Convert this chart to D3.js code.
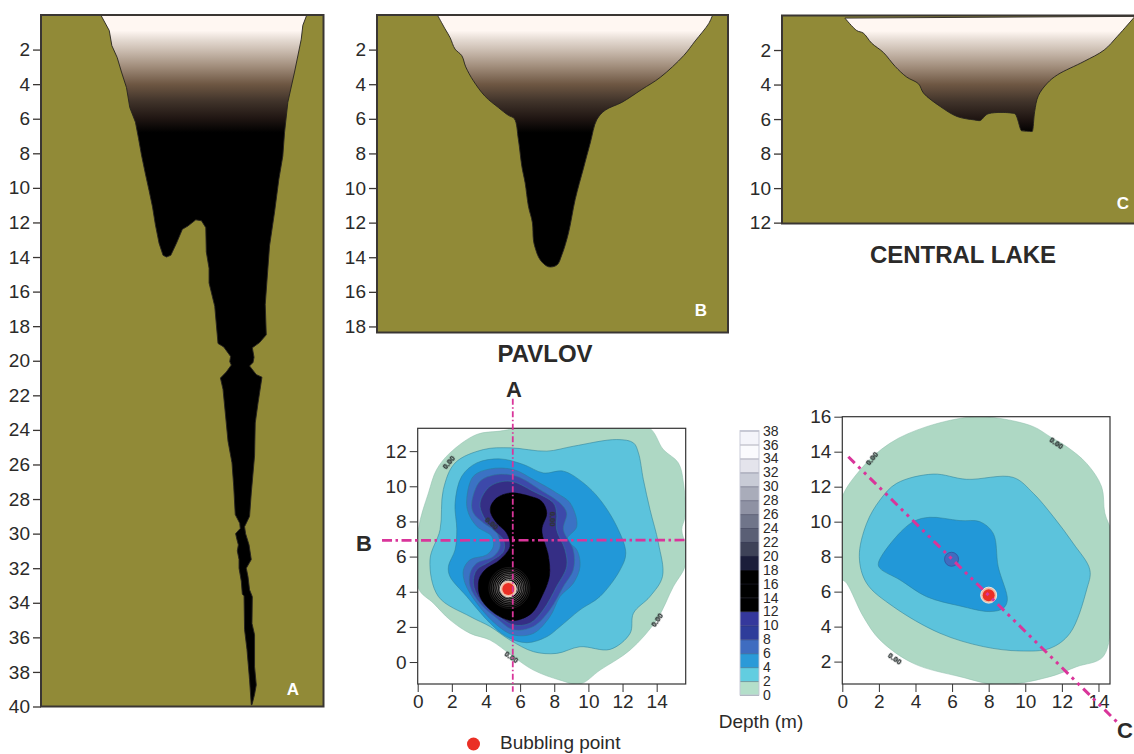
<!DOCTYPE html>
<html><head><meta charset="utf-8">
<script src="https://cdn.jsdelivr.net/npm/d3@7"></script>
<style>
html,body{margin:0;padding:0;background:#fff;overflow:hidden}
text{font-family:"Liberation Sans",Arial,sans-serif;fill:#2b2a29}
</style></head><body><svg id="c" width="1134" height="754" viewBox="0 0 1134 754"></svg>
<script>
// ---- cross-section profiles: [horizontal distance (m), depth (m)]
const profileA=[[3.47,0],[3.96,.9],[4.11,1.77],[4.42,2.46],[4.67,3.3],[4.96,4.2],[5.15,5.35],[5.48,6.2],[5.66,7.15],[5.83,8.1],[6.06,9.2],[6.27,10.15],[6.47,11.1],[6.64,12.15],[6.85,13.2],[7.08,13.9],[7.28,14],[7.53,13.9],[7.86,13.2],[8.2,12.4],[8.53,12.2],[8.98,11.85],[9.31,11.9],[9.56,12.3],[9.59,13.7],[9.75,14.65],[9.75,15.5],[10.08,16.85],[10.27,19],[10.6,19.2],[11,19.75],[10.95,20.05],[11.04,20.25],[10.75,20.65],[10.41,21],[10.56,21.65],[10.71,23.2],[10.85,24.65],[11.08,25.9],[11.18,27.25],[11.27,28.9],[11.53,29.4],[11.56,29.7],[11.29,30],[11.37,30.35],[11.45,30.65],[11.39,31],[11.49,31.5],[11.49,32],[11.62,32.75],[11.68,33.5],[11.78,33.6],[11.81,35.55],[11.95,36.7],[12.1,38.45],[12.2,39.9],[12.24,39.9],[12.39,39.3],[12.49,38.75],[12.39,37.7],[12.39,35.85],[12.24,35.2],[12.26,33.65],[12.1,33.25],[12.01,32.5],[11.91,32],[12.2,31.5],[12.07,30.65],[11.87,30],[11.81,29.6],[12.1,29],[12.2,27.65],[12.39,25.5],[12.43,23.6],[12.59,22.45],[12.82,20.95],[12.49,20.8],[12.1,20.3],[12.3,20.1],[12.36,19.8],[12.26,19.25],[12.68,18.95],[13.07,18.5],[13.01,16.75],[13.13,15.1],[13.26,13.35],[13.55,11.4],[13.8,9.5],[14.03,8.15],[14.13,6.8],[14.32,5.05],[14.71,3.3],[15.1,1.4],[15.19,.6],[15.42,0]];
const profileB=[[3.5,0],[3.94,.8],[4.23,1.3],[4.52,1.97],[4.91,2.35],[5.14,3],[5.58,3.8],[6.26,4.7],[7.03,5.35],[7.61,5.8],[7.96,6],[8.19,7.2],[8.39,8.75],[8.58,9.7],[8.77,11.05],[9,12],[9.06,13],[9.16,13.45],[9.45,14.15],[9.93,14.55],[10.42,14.45],[10.71,13.85],[11.09,12.6],[11.48,10.65],[11.96,8.85],[12.35,7.4],[12.73,6.05],[13.22,5.5],[14.18,5.05],[15.34,4.3],[16.41,3.6],[17.76,2.35],[18.43,1.5],[19.21,.5],[19.44,0]];
const profileC=[[3.63,.15],[4.31,.87],[4.69,1.02],[5.17,1.6],[5.85,2.14],[6.53,2.95],[7.2,3.57],[7.88,3.96],[8.17,4.5],[9.13,5.27],[10.1,5.85],[11.1,6.05],[11.45,6.08],[11.62,5.92],[11.83,5.72],[12.41,5.62],[13.3,5.66],[13.47,5.72],[13.8,6.66],[13.85,6.68],[14.4,6.72],[14.44,6.72],[14.58,5.56],[14.79,4.65],[15.31,3.92],[15.89,3.44],[17.43,2.66],[18.59,2],[19.36,1.2],[20.37,.05]];
const ticksA=d3.range(2,41,2), ticksB=d3.range(2,19,2), ticksC=d3.range(2,13,2);

// water gradient: [depth (m), colour]
const waterStops=[[.9,"#fff7f2"],[1.4,"#e6dcd4"],[2,"#cdbfb3"],[3,"#a08c7a"],[4,"#6e5743"],[5,"#40332a"],[6,"#1f1512"],[6.8,"#000000"]];

// ---- Pavlov map contours: [x, y] in map metres
const pavlov0=[[3.46,12.95],[4.82,13.14],[6.78,13.42],[13.42,13.42],[14.39,12.09],[15.27,11.33],[15.57,10.19],[15.66,8.29],[15.47,7.53],[15.7,6.58],[15.66,5.44],[14.98,4.3],[14,2.4],[12.44,.68],[10.68,-.46],[9.51,-1.25],[8.34,-1.03],[6.78,-.46],[5.61,.3],[4.24,1.25],[3.07,1.63],[1.89,2.4],[.92,3.35],[.04,4.2],[.04,7.53],[.63,9.62],[1.11,10.95],[1.89,11.9]];
const pavlov2=[[3.85,12.09],[5.41,12.19],[7.56,12],[9.12,12.28],[11.66,12.66],[12.64,12.47],[12.93,11.9],[13.22,10.38],[13.61,8.67],[14.1,6.77],[14.34,4.87],[13.61,3.73],[12.64,2.78],[12.44,1.63],[11.27,.72],[9.51,.87],[8.14,.49],[6.78,.59],[5.41,1.25],[4.24,2.02],[3.07,2.59],[1.21,3.73],[.72,5.82],[1.31,7.53],[1.5,9.81],[2.19,11.33]];
const pavlov4=[[2.19,9.05],[2.58,10.57],[3.46,11.33],[4.82,11.56],[6.19,11.24],[7.36,10.76],[8.54,10.86],[9.71,10.19],[10.68,9.24],[11.66,7.72],[12.19,6.2],[11.86,5.25],[10.68,3.73],[9.51,2.97],[8.34,2.02],[7.56,1.44],[6.39,1.1],[5.21,1.44],[4.24,2.21],[2.87,3.73],[1.89,4.87],[1.8,5.44],[2.19,6.39],[2.29,7.53]];
const pavlov6=[[2.87,9.24],[3.26,10.57],[4.24,10.99],[5.61,10.95],[6.78,10.38],[8.14,9.62],[8.93,9.05],[9.32,7.72],[8.73,6.96],[9.32,6.39],[9.51,5.44],[9.12,4.49],[8.34,3.73],[7.75,2.59],[6.78,1.63],[5.61,1.54],[4.63,2.11],[3.46,3.35],[2.77,4.49],[2.68,5.25],[3.07,5.82],[4.04,6.1],[4.43,6.58],[4.34,7.15],[3.46,7.72],[2.97,8.48]];
const pavlov8=[[3.16,9.05],[3.65,10.29],[4.63,10.67],[5.8,10.57],[7.17,9.81],[8.34,9.05],[8.73,8.48],[8.54,7.53],[9.12,6.39],[9.12,5.25],[8.54,4.3],[7.75,2.97],[6.78,2.02],[5.61,1.83],[4.63,2.49],[3.65,3.35],[3.07,4.3],[3.07,5.06],[3.46,5.63],[4.43,6.01],[4.82,6.58],[4.63,7.34],[3.85,7.91],[3.26,8.48]];
const pavlov10=[[3.65,9.05],[4.24,10],[5.41,10.29],[6.78,9.71],[7.95,9.05],[8.14,8.48],[8.14,7.53],[8.63,6.39],[8.73,5.44],[8.14,4.3],[7.36,2.97],[6.58,2.21],[5.61,2.11],[4.63,2.68],[3.65,3.54],[3.26,4.49],[3.46,5.25],[4.24,5.72],[5.02,6.29],[5.02,6.96],[4.43,7.53],[3.85,8.29]];
const pavlov12=[[4.28,8.86],[4.63,9.33],[5.41,9.62],[6.58,9.43],[7.27,9.14],[7.56,8.48],[7.27,7.53],[7.66,6.01],[7.71,4.87],[7.27,3.73],[6.68,2.78],[5.7,2.36],[5.02,2.49],[4.24,2.97],[3.65,3.73],[3.59,4.68],[3.95,5.25],[4.82,5.82],[5.41,6.58],[5.21,7.34],[4.63,7.91],[4.28,8.48]];
const pavlovBubble=[5.31,4.16];
const pavlovRings=[.5,.6,.7,.8,.9,1,1.1,1.2];
const pavlovLabels=[[1.8,11.37,-50,"0.00"],[5.5,.3,35,"0.00"],[14,2.4,-55,"0.00"],[7.91,8.14,90,"0.00"],[4.34,7.91,40,"0.00"]];
const pavlovLineA=[[5.57,14.98],[5.57,-1.69]];
const pavlovLineB=[[-2.09,6.92],[15.7,6.94]];
const pavlovTicksX=[0,2,4,6,8,10,12,14], pavlovTicksY=[0,2,4,6,8,10,12];

// ---- Central Lake map contours
const central0=[[7.16,16],[8.62,15.9],[10.44,15.43],[11.35,14.86],[12.26,14.29],[13.35,13.33],[14.17,12],[14.35,10.48],[14.72,9.33],[14.72,6.29],[14.72,4.76],[14.26,2.29],[12.81,1.71],[11.35,1.14],[8.62,.67],[6.43,1.14],[3.88,1.9],[2.06,3.24],[1.15,4.57],[.24,6.48],[-.13,6.86],[-.13,11.05],[.97,12.95],[2.6,14.48],[4.61,15.43]];
const central2=[[2.97,12.19],[4.97,12.72],[6.79,12.42],[9.34,12.53],[10.44,11.62],[11.53,10.29],[12.62,8.76],[13.53,7.24],[13.35,6.1],[12.44,3.62],[11.35,2.76],[9.71,2.61],[7.7,2.86],[5.34,3.62],[2.79,5.14],[1.33,6.48],[.93,8],[1.33,9.9],[2.06,11.24]];
const central4=[[1.97,7.62],[2.79,8.95],[3.88,10],[4.79,10.25],[6.43,10.06],[7.52,10],[8.25,9.33],[8.52,7.43],[9.02,5.52],[8.8,5.05],[8.07,4.86],[6.43,5.18],[4.61,5.71],[3.15,6.67],[2.06,7.33]];
const centralDeep=[5.97,7.85];
const centralBubble=[8,5.8];
const centralLabels=[[1.6,13.62,-50,"0.00"],[11.71,14.51,35,"0.00"],[2.88,2.19,35,"0.00"]];
const centralLine=[[.33,13.71],[14.99,-1.43]];
const centralTicksX=[0,2,4,6,8,10,12,14], centralTicksY=[2,4,6,8,10,12,14,16];

// ---- colour key
const contourColors=["#aed8c4","#5cc3dc","#2198d8","#3a72c4","#3d4aaa","#352e85","#000000"];
const keyLevels=d3.range(0,39,2);
const keyColors=["#b4dfca","#62cde0","#2b9ad8","#3f6cc0","#2e3c9a","#35389c","#000000","#000000","#000000","#1b1d3a","#3e4258","#5a5f75","#70758a","#8f92a4","#a9acba","#c8cbd6","#e4e4ec","#fafafd","#f4f4fa"];

const titles=["PAVLOV","CENTRAL LAKE"];
const OLIVE="#918a37", FRAME="#3a3633", PINK="#d9359a";

const svg=d3.select("#c"), defs=svg.append("defs");
defs.append("filter").attr("id","soft").attr("x","-5%").attr("y","-5%").attr("width","110%").attr("height","110%")
  .append("feGaussianBlur").attr("stdDeviation",.5);

function section(id,profile,box,hMax,dMax,ticks,letter,letterPos,curve){
  const x=d3.scaleLinear([0,hMax],[box[0],box[2]]);
  const y=d3.scaleLinear([0,dMax],[box[1],box[3]]);
  const g=svg.append("g");
  const grad=defs.append("linearGradient").attr("id","w"+id).attr("gradientUnits","userSpaceOnUse")
    .attr("x1",0).attr("x2",0).attr("y1",y(0)).attr("y2",y(6.8));
  waterStops.forEach(s=>grad.append("stop").attr("offset",s[0]/6.8).attr("stop-color",s[1]));
  g.append("rect").attr("x",box[0]).attr("y",box[1]).attr("width",box[2]-box[0]).attr("height",box[3]-box[1]).attr("fill",OLIVE);
  g.append("path").attr("d",d3.line().x(d=>x(d[0])).y(d=>y(d[1])).curve(curve)(profile)+"Z")
    .attr("fill",`url(#w${id})`).attr("stroke","#26221f").attr("stroke-width",.9).attr("stroke-linejoin","round");
  const ax=d3.axisLeft(y).tickValues(ticks).tickSize(8).tickPadding(3).tickSizeOuter(0);
  const a=g.append("g").attr("transform",`translate(${box[0]},0)`).call(ax);
  a.select(".domain").remove();
  a.selectAll("line").attr("stroke",FRAME).attr("stroke-width",1.3);
  a.selectAll("text").attr("font-size",19).style("font-family",'"Liberation Sans"').attr("fill","#2b2a29");
  g.append("rect").attr("x",box[0]).attr("y",box[1]).attr("width",box[2]-box[0]).attr("height",box[3]-box[1])
    .attr("fill","none").attr("stroke",FRAME).attr("stroke-width",2);
  g.append("text").attr("x",letterPos[0]).attr("y",letterPos[1]).attr("text-anchor","middle")
    .attr("font-size",17).attr("font-weight","bold").style("fill","#fff").text(letter);
}
section("A",profileA,[41,15,323.5,706.5],16.39,40,ticksA,"A",[293,695],d3.curveLinear);
section("B",profileB,[377,15,728,332.5],20.33,18.35,ticksB,"B",[701,316],d3.curveCatmullRom.alpha(.5));
section("C",profileC,[782,15.5,1135,223.5],20.37,12.05,ticksC,"C",[1123,209],d3.curveCatmullRom.alpha(.5));

svg.append("text").attr("x",545).attr("y",362).attr("text-anchor","middle").attr("font-size",24).attr("font-weight","bold").text(titles[0]);
svg.append("text").attr("x",963).attr("y",263).attr("text-anchor","middle").attr("font-size",24).attr("font-weight","bold").text(titles[1]);

function mapPanel(id,box,xd,yd,ticksX,ticksY,contours){
  const x=d3.scaleLinear(xd,[box[0],box[2]]), y=d3.scaleLinear(yd,[box[3],box[1]]);
  const g=svg.append("g");
  defs.append("clipPath").attr("id","clip"+id).append("rect").attr("x",box[0]).attr("y",box[1]).attr("width",box[2]-box[0]).attr("height",box[3]-box[1]);
  const gc=g.append("g").attr("clip-path",`url(#clip${id})`).append("g").attr("filter","url(#soft)");
  const line=d3.line().x(d=>x(d[0])).y(d=>y(d[1])).curve(d3.curveCatmullRomClosed.alpha(.5));
  contours.forEach((c,i)=>gc.append("path").attr("d",line(c)).attr("fill",contourColors[i])
    .attr("stroke",i===0?"#8fbfae":i===6?"#000":"#2c7f96").attr("stroke-opacity",.6).attr("stroke-width",.9));
  const ay=d3.axisLeft(y).tickValues(ticksY).tickSize(8).tickPadding(3);
  const a1=g.append("g").attr("transform",`translate(0,${box[3]})`).call(d3.axisBottom(x).tickValues(ticksX).tickSize(8).tickPadding(3).tickFormat(d3.format("d")));
  const a2=g.append("g").attr("transform",`translate(${box[0]},0)`).call(ay);
  [a1,a2].forEach(a=>{a.select(".domain").remove();a.selectAll("line").attr("stroke","#333").attr("stroke-width",1);
    a.selectAll("text").attr("font-size",19).style("font-family",'"Liberation Sans"').attr("fill","#2b2a29");});
  g.append("rect").attr("x",box[0]).attr("y",box[1]).attr("width",box[2]-box[0]).attr("height",box[3]-box[1])
    .attr("fill","none").attr("stroke","#333").attr("stroke-width",1.2);
  return {x,y,g};
}
function sectionLine(p,pts,dash,w){
  p.g.append("path").attr("d",d3.line().x(d=>p.x(d[0])).y(d=>p.y(d[1]))(pts))
    .attr("fill","none").attr("stroke",PINK).attr("stroke-width",w).attr("stroke-dasharray",dash);
}
function bubble(p,pos,r1,r2){
  p.g.append("circle").attr("cx",p.x(pos[0])).attr("cy",p.y(pos[1])).attr("r",r1).attr("fill","#f2b8a0").attr("stroke","#f4ece4").attr("stroke-width",.9);
  p.g.append("circle").attr("cx",p.x(pos[0])).attr("cy",p.y(pos[1])).attr("r",r2).attr("fill","#ea2f25");
}
function tinyLabels(p,rows){
  p.g.selectAll(null).data(rows).join("text")
    .attr("transform",d=>`translate(${p.x(d[0])},${p.y(d[1])}) rotate(${d[2]})`)
    .attr("text-anchor","middle").attr("dy",2.6).attr("font-size",7.5).attr("font-weight","bold")
    .style("fill","#2f3636").attr("stroke","#2f3636").attr("stroke-width",.4).attr("filter","url(#soft)").text(d=>d[3]);
}

// Pavlov map
const pv=mapPanel("P",[417.7,428.3,685.7,684],[0,15.7],[-1.25,13.3],pavlovTicksX,pavlovTicksY,[pavlov0,pavlov2,pavlov4,pavlov6,pavlov8,pavlov10,pavlov12]);
tinyLabels(pv,pavlovLabels);
const ringScale=d3.scaleLinear([0,1],[0,pv.x(1)-pv.x(0)]);
pv.g.selectAll(null).data(pavlovRings).join("circle").attr("cx",pv.x(pavlovBubble[0]+.06)).attr("cy",pv.y(pavlovBubble[1]+.06))
  .attr("r",d=>ringScale(d)).attr("fill","none").attr("stroke","#e2dcdc").attr("stroke-width",.8).attr("stroke-opacity",d=>1.15-d*.85);
bubble(pv,pavlovBubble,8,6);
sectionLine(pv,pavlovLineA,"6 2.5 1.5 2.5",1.8);
sectionLine(pv,pavlovLineB,"10 3.5 2.5 3.5",2.6);

// Central map
const cl=mapPanel("C",[842.3,416.7,1110,684],[0,14.63],[.72,16],centralTicksX,centralTicksY,[central0,central2,central4]);
tinyLabels(cl,centralLabels);
cl.g.append("circle").attr("cx",cl.x(centralDeep[0])).attr("cy",cl.y(centralDeep[1])).attr("r",7).attr("fill","#3f6cc0").attr("stroke","#35509c").attr("stroke-width",.8);
bubble(cl,centralBubble,8,6);
sectionLine(cl,centralLine,"9 5 3 5 3 5",3);

// Section letters on the maps
[["A",514,397],["B",364,551],["C",1125,738]].forEach(d=>svg.append("text").attr("x",d[1]).attr("y",d[2]).attr("text-anchor","middle").attr("font-size",22).attr("font-weight","bold").text(d[0]));

// Colour key
const ky=d3.scaleLinear([0,38],[695,430.6]);
const kg=svg.append("g");
keyColors.forEach((c,i)=>kg.append("rect").attr("x",740).attr("y",ky(keyLevels[i+1])).attr("width",19).attr("height",ky(keyLevels[i])-ky(keyLevels[i+1])+.3).attr("fill",c));
const ka=kg.append("g").attr("transform","translate(759,0)").call(d3.axisRight(ky).tickValues(keyLevels).tickSize(-19).tickPadding(4));
ka.select(".domain").remove();
ka.selectAll("line").attr("stroke","#2c2e48").attr("stroke-width",.8).attr("stroke-opacity",.45);
ka.selectAll("text").attr("font-size",14).style("font-family",'"Liberation Sans"').attr("fill","#2b2a29");
kg.append("rect").attr("x",740).attr("y",430.6).attr("width",19).attr("height",264.4).attr("fill","none").attr("stroke","#c4c6d4").attr("stroke-width",.9);
svg.append("text").attr("x",761).attr("y",728).attr("text-anchor","middle").attr("font-size",19).text("Depth (m)");

// Legend
svg.append("circle").attr("cx",473.5).attr("cy",744).attr("r",6.5).attr("fill","#ea2f25");
svg.append("text").attr("x",500).attr("y",749).attr("font-size",19).text("Bubbling point");
</script></body></html>
